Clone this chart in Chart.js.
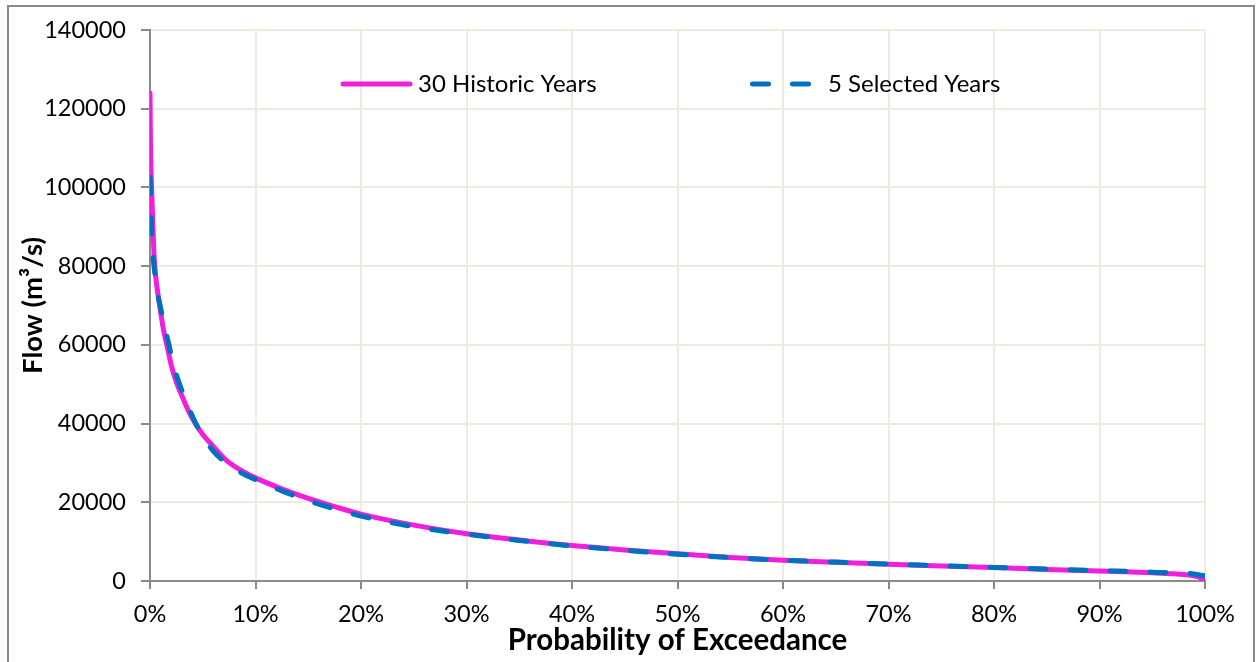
<!DOCTYPE html>
<html>
<head>
<meta charset="utf-8">
<script src="https://cdn.jsdelivr.net/npm/chart.js@4/dist/chart.umd.min.js"></script>
<style>
html,body{margin:0;padding:0;background:#fff;}
#wrap{width:1257px;height:662px;position:relative;}
</style>
</head>
<body>
<div id="wrap"><canvas id="c" width="1257" height="662"></canvas></div>
<script>
// ---- data ----
const seriesNames = ["30 Historic Years", "5 Selected Years"];
const pctHist = [0,0.05,0.15,0.25,0.4,0.6,0.8,1.0,1.3,1.6,2.0,2.5,3.0,3.6,4.3,5.0,6.0,7.3,8.5,10,12.3,15,17.5,20,25,30,35,40,45,50,55,60,65,70,75,80,85,90,95,97,98.5,99.5,100];
const flowHist = [124000,110000,100000,92000,82000,76000,72000,68500,63500,60000,55000,50500,47200,43500,40000,37200,34200,30500,28300,26200,23600,21000,18900,17000,14200,12000,10400,9000,7900,6900,6000,5300,4750,4250,3800,3400,2950,2550,2100,1850,1500,900,300];
const pctSel = [0,0.1,0.2,0.4,0.7,1.0,1.4,1.8,2.2,2.7,3.3,4.2,5.0,6.0,7.5,9.0,10,12.5,15,17.5,20,25,30,35,40,45,50,55,60,65,70,75,80,85,90,95,98.5,100];
const flowSel = [102500,93000,86000,79500,73500,69500,64500,60000,55000,50800,46500,40800,36800,33000,29400,27000,25800,22900,20400,18300,16500,13800,11900,10300,8900,7800,6800,5950,5300,4800,4300,3850,3450,3050,2650,2250,1900,1300];
const yTicks = [0,20000,40000,60000,80000,100000,120000,140000];
const xTicks = [0,10,20,30,40,50,60,70,80,90,100];

const FONT = "Lato, 'Open Sans', sans-serif";

const bgBorder = {
  id: 'bgBorder',
  beforeDraw(chart) {
    const ctx = chart.ctx;
    ctx.save();
    ctx.fillStyle = '#fff';
    ctx.fillRect(0, 0, chart.width, chart.height);
    ctx.strokeStyle = '#8a8a8a';
    ctx.lineWidth = 2;
    ctx.strokeRect(8, 6, 1246, 700);
    ctx.restore();
  }
};

const insideLegend = {
  id: 'insideLegend',
  afterDatasetsDraw(chart, args, opts) {
    const ctx = chart.ctx;
    ctx.save();
    ctx.font = opts.font;
    ctx.textBaseline = 'middle';
    ctx.fillStyle = '#000';
    chart.data.datasets.forEach((ds, i) => {
      const it = opts.items[i];
      ctx.beginPath();
      ctx.strokeStyle = ds.borderColor;
      ctx.lineWidth = ds.borderWidth;
      ctx.lineCap = ds.borderCapStyle || 'butt';
      ctx.setLineDash(ds.borderDash || []);
      ctx.moveTo(it.x0, opts.y);
      ctx.lineTo(it.x1, opts.y);
      ctx.stroke();
      ctx.setLineDash([]);
      ctx.fillText(ds.label, it.tx, opts.y);
    });
    ctx.restore();
  }
};

new Chart(document.getElementById('c'), {
  type: 'line',
  data: {
    datasets: [
      {
        label: seriesNames[0],
        data: pctHist.map((p, i) => ({x: p, y: flowHist[i]})),
        borderColor: '#EF1FDB',
        backgroundColor: '#EF1FDB',
        borderWidth: 5,
        borderCapStyle: 'round',
        borderJoinStyle: 'round',
        pointRadius: 0,
        cubicInterpolationMode: 'monotone',
        order: 1
      },
      {
        label: seriesNames[1],
        data: pctSel.map((p, i) => ({x: p, y: flowSel[i]})),
        borderColor: '#0070C0',
        backgroundColor: '#0070C0',
        borderWidth: 5,
        borderDash: [16, 24],
        borderCapStyle: 'round',
        borderJoinStyle: 'round',
        pointRadius: 0,
        cubicInterpolationMode: 'monotone',
        order: 0
      }
    ]
  },
  options: {
    responsive: false,
    animation: false,
    events: [],
    layout: {padding: {left: 0, right: 52, top: 30, bottom: 0}},
    plugins: {
      legend: {display: false},
      tooltip: {enabled: false},
      insideLegend: {
        font: "24px " + FONT,
        y: 84,
        items: [{x0: 343, x1: 410, tx: 418}, {x0: 752.5, x1: 810, tx: 828}]
      }
    },
    scales: {
      x: {
        type: 'linear',
        min: 0, max: 100,
        afterBuildTicks: s => { s.ticks = xTicks.map(v => ({value: v})); },
        afterFit: s => { s.height = 81; },
        ticks: {
          callback: v => v + '%',
          color: '#000',
          font: {family: FONT, size: 23.5},
          padding: 11,
          maxRotation: 0
        },
        grid: {color: '#EEEBE0', lineWidth: 2, tickLength: 8, tickColor: '#8a8a8a', tickWidth: 2},
        border: {color: '#8a8a8a', width: 2},
        title: {
          display: true,
          text: 'Probability of Exceedance',
          color: '#000',
          font: {family: FONT, size: 29.5, weight: 'bold'},
          padding: {top: 0, bottom: 4}
        }
      },
      y: {
        type: 'linear',
        min: 0, max: 140000,
        afterBuildTicks: s => { s.ticks = yTicks.map(v => ({value: v})); },
        afterFit: s => { s.width = 150; },
        ticks: {
          callback: v => String(v),
          color: '#000',
          font: {family: FONT, size: 23.5},
          padding: 15
        },
        grid: {color: '#EEEBE0', lineWidth: 2, tickLength: 9, tickColor: '#8a8a8a', tickWidth: 2},
        border: {color: '#8a8a8a', width: 2},
        title: {
          display: true,
          text: 'Flow (m³/s)',
          color: '#000',
          font: {family: FONT, size: 27.5, weight: 'bold'},
          padding: {top: 17, bottom: 0}
        }
      }
    }
  },
  plugins: [bgBorder, insideLegend]
});
</script>
</body>
</html>
